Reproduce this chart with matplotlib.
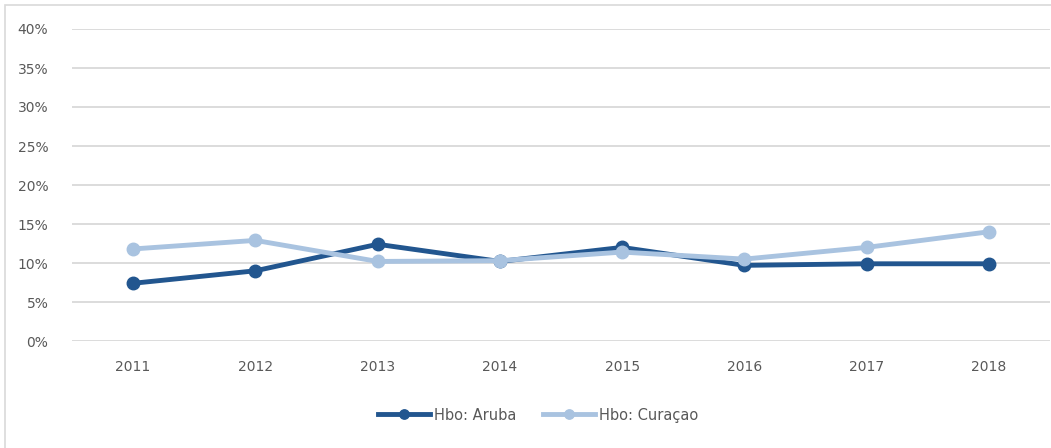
import matplotlib
matplotlib.use("Agg")
import matplotlib.pyplot as plt
from matplotlib.patches import Rectangle
from matplotlib.ticker import FuncFormatter, MultipleLocator

years = ["2011", "2012", "2013", "2014", "2015", "2016", "2017", "2018"]
aruba = [7.4, 9.0, 12.4, 10.2, 12.0, 9.7, 9.9, 9.9]
curacao = [11.8, 12.9, 10.2, 10.3, 11.4, 10.5, 12.0, 14.0]
series_names = ["Hbo: Aruba", "Hbo: Curaçao"]

W, H = 1051, 448
fig = plt.figure(figsize=(W / 100, H / 100), dpi=100)
fig.patch.set_facecolor("white")
fig.patches.append(Rectangle((5 / W, -0.1), 1.2, 1 - 5 / H + 0.1, transform=fig.transFigure,
                             fill=False, edgecolor="#d9d9d9", linewidth=1.2))

ax = fig.add_axes([72 / W, 1 - 341 / H, (1050 - 72) / W, (341 - 29) / H])
x = list(range(len(years)))
dark = "#22568F"
light = "#A9C3E0"
ax.plot(x, aruba, color=dark, lw=3.5, marker="o", ms=9, label=series_names[0], zorder=3)
ax.plot(x, curacao, color=light, lw=3.5, marker="o", ms=9, label=series_names[1], zorder=4)

ax.set_xlim(-0.5, len(years) - 0.5)
ax.set_ylim(0, 40)
ax.yaxis.set_major_locator(MultipleLocator(5))
ax.yaxis.set_major_formatter(FuncFormatter(lambda v, p: f"{v:.0f}%"))
ax.set_xticks(x)
ax.set_xticklabels(years)
ax.grid(axis="y", color="#d9d9d9", lw=1.3)
ax.set_axisbelow(True)
for s in ax.spines.values():
    s.set_visible(False)
ax.tick_params(length=0, labelsize=10, labelcolor="#595959")
ax.tick_params(axis="y", pad=17)
ax.tick_params(axis="x", pad=14)

fig.legend(loc="center", bbox_to_anchor=(538 / W, 1 - 415 / H), ncol=2, frameon=False,
           fontsize=10.5, labelcolor="#595959", handlelength=3.6, handletextpad=0.25,
           columnspacing=1.8, markerscale=0.75)

fig.savefig("out.png", dpi=100, facecolor="white")
